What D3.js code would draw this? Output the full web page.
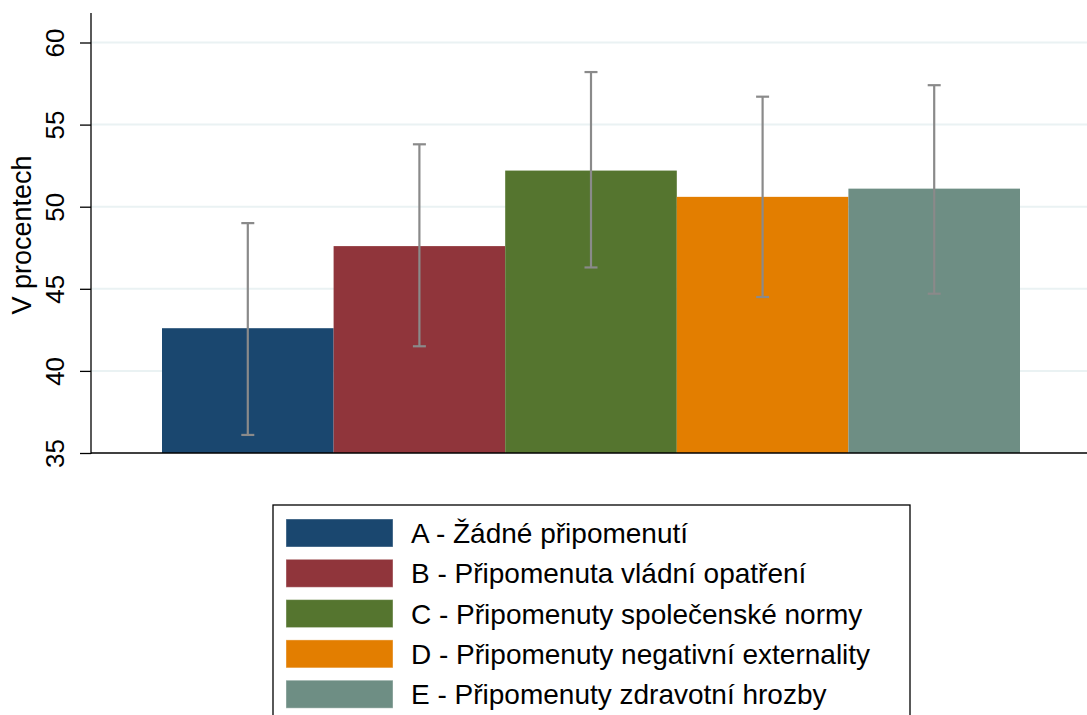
<!DOCTYPE html>
<html><head><meta charset="utf-8">
<script src="https://cdn.jsdelivr.net/npm/d3@7"></script>
<style>body{margin:0;background:#fff;} svg{display:block;font-family:"Liberation Sans",Arial,sans-serif;}</style>
</head><body>
<svg id="c" width="1087" height="715"></svg>
<script>
const categories = ["A - Žádné připomenutí","B - Připomenuta vládní opatření","C - Připomenuty společenské normy","D - Připomenuty negativní externality","E - Připomenuty zdravotní hrozby"];
const values = [42.6, 47.6, 52.2, 50.6, 51.1];
const ciLow = [36.1, 41.5, 46.3, 44.5, 44.7];
const ciHigh = [49.0, 53.8, 58.2, 56.7, 57.4];
const colors = ["#1a476f","#90353b","#55752f","#e37e00","#6e8e84"];
const yTicks = [35,40,45,50,55,60];

const svg = d3.select("#c");
const axisX = 91, plotTop = 13, plotBottom = 453;
const y = d3.scaleLinear().domain([35,60]).range([453,42.5]);
const x = d3.scaleBand().domain(categories).range([162,1020]).padding(0);

svg.append("g").selectAll("line").data(yTicks.slice(1)).join("line")
  .attr("x1",axisX).attr("x2",1087).attr("y1",d=>y(d)).attr("y2",d=>y(d))
  .attr("stroke","#eaf2f3").attr("stroke-width",2);

svg.append("g").selectAll("rect").data(values).join("rect")
  .attr("x",(d,i)=>x(categories[i])).attr("width",x.bandwidth())
  .attr("y",d=>y(d)).attr("height",d=>y(35)-y(d))
  .attr("fill",(d,i)=>colors[i]);

const eb = svg.append("g").attr("stroke","#8a8a8a").attr("stroke-width",2.2);
categories.forEach((c,i)=>{
  const cx = x(c)+x.bandwidth()/2;
  eb.append("line").attr("x1",cx).attr("x2",cx).attr("y1",y(ciLow[i])).attr("y2",y(ciHigh[i]));
  eb.append("line").attr("x1",cx-6.5).attr("x2",cx+6.5).attr("y1",y(ciLow[i])).attr("y2",y(ciLow[i]));
  eb.append("line").attr("x1",cx-6.5).attr("x2",cx+6.5).attr("y1",y(ciHigh[i])).attr("y2",y(ciHigh[i]));
});

const yAxis = d3.axisLeft(y).tickValues(yTicks).tickSize(11).tickPadding(6);
const ga = svg.append("g").attr("transform",`translate(${axisX},0)`).call(yAxis);
ga.select(".domain").remove();
ga.selectAll(".tick line").attr("stroke","#000").attr("stroke-width",1.3);
ga.selectAll(".tick text").attr("font-size",26).attr("fill","#000")
  .attr("text-anchor","middle").attr("x",0).attr("y",0)
  .attr("transform","translate(-36,0) rotate(-90)").attr("dy","0.35em");
svg.append("line").attr("x1",axisX).attr("x2",axisX).attr("y1",plotTop).attr("y2",plotBottom+1)
  .attr("stroke","#000").attr("stroke-width",1.3);
svg.append("line").attr("x1",axisX).attr("x2",1087).attr("y1",plotBottom).attr("y2",plotBottom)
  .attr("stroke","#000").attr("stroke-width",1.5);

svg.append("text").attr("transform",`translate(31,235) rotate(-90)`)
  .attr("text-anchor","middle").attr("font-size",27).attr("fill","#000").text("V procentech");

const lg = svg.append("g");
lg.append("rect").attr("x",273).attr("y",505).attr("width",637).attr("height",215)
  .attr("fill","#fff").attr("stroke","#000").attr("stroke-width",1.3);
categories.forEach((c,i)=>{
  const ry = 519 + i*40.3;
  lg.append("rect").attr("x",286).attr("y",ry).attr("width",107).attr("height",28)
    .attr("fill",colors[i]).attr("stroke","#ffffff").attr("stroke-opacity",0.4).attr("stroke-width",1);
  lg.append("text").attr("x",411).attr("y",ry+14).attr("dy","0.36em")
    .attr("font-size",28).attr("fill","#000").text(c);
});
</script>
</body></html>
